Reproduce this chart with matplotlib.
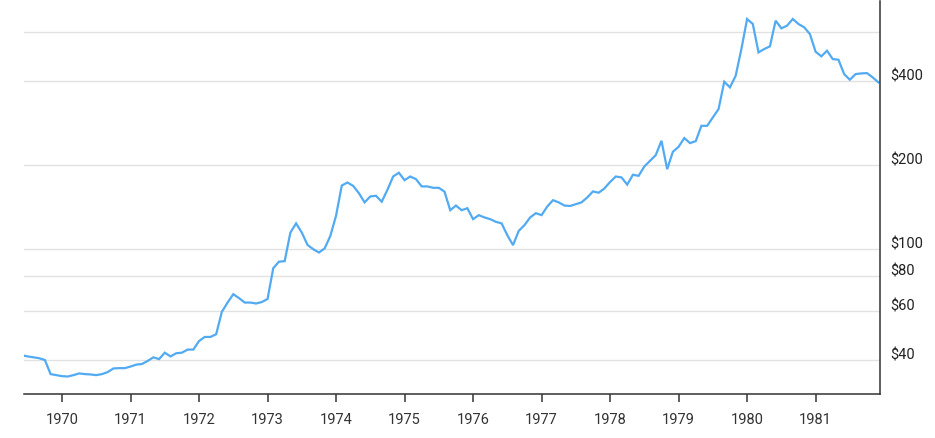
import numpy as np
import matplotlib.pyplot as plt
from matplotlib.transforms import ScaledTranslation

# monthly gold price, Jun 1969 .. Dec 1981
start_year = 1969
start_month = 6
gold_price = [
    41.7, 41.3, 41.0, 40.7, 40.1, 35.7, 35.4, 35.1, 35.0, 35.4, 35.9, 35.7,
    35.6, 35.4, 35.7, 36.3, 37.4, 37.5, 37.5, 38.0, 38.6, 38.8, 39.8, 41.0,
    40.4, 42.6, 41.3, 42.4, 42.6, 43.7, 43.7, 46.9, 48.5, 48.5, 49.6, 59.7,
    64.4, 69.0, 66.8, 64.4, 64.4, 63.9, 64.7, 66.3, 85.5, 90.2, 90.6, 114.7,
    123.7, 114.7, 103.6, 100.0, 97.3, 100.6, 111.6, 131.8, 169.0, 173.3, 168.5, 158.7,
    147.1, 154.5, 155.3, 147.9, 163.2, 182.1, 187.8, 176.7, 182.1, 178.2, 167.8, 167.8,
    165.9, 165.9, 160.7, 137.9, 143.3, 137.9, 140.2, 128.1, 132.4, 129.9, 128.1, 125.3,
    123.7, 112.2, 103.4, 116.3, 121.9, 129.9, 134.6, 132.4, 142.2, 149.8, 147.1, 143.3,
    142.8, 145.0, 147.1, 153.2, 161.0, 159.3, 165.0, 174.0, 182.1, 180.7, 170.3, 184.7,
    183.1, 197.8, 207.3, 217.2, 244.5, 193.4, 223.3, 232.6, 250.0, 239.8, 243.7, 276.6,
    276.6, 296.4, 317.5, 397.8, 379.7, 417.9, 520.9, 667.3, 640.4, 506.7, 520.9, 532.5,
    658.1, 617.7, 631.5, 667.3, 640.4, 622.9, 589.4, 509.5, 490.4, 513.7, 479.5, 477.0,
    423.6, 404.4, 423.6, 426.0, 427.1, 412.4, 395.6,
]
year_ticks = list(range(1970, 1982))
price_ticks = [40, 60, 80, 100, 200, 400, 600]
price_labels = ['$40', '$60', '$80', '$100', '$200', '$400', '']

t = start_year + (start_month - 1 + np.arange(len(gold_price))) / 12

plt.rcParams['font.family'] = ['Roboto', 'DejaVu Sans']

fig = plt.figure(figsize=(9.35, 4.39), dpi=100)
ax = fig.add_axes([24 / 935, 44 / 439, 856 / 935, 393 / 439])

ax.plot(t, gold_price, color='#52abf2', lw=1.6, solid_joinstyle='miter')

ax.set_yscale('log')
ax.set_xlim(1969.445, 1981.94)
ax.set_ylim(30.3, 774)

ax.set_xticks(year_ticks)
ax.set_xticklabels([str(y) for y in year_ticks])
ax.set_yticks(price_ticks)
ax.set_yticklabels(price_labels)
ax.yaxis.set_minor_locator(plt.NullLocator())
ax.xaxis.set_minor_locator(plt.NullLocator())

ax.yaxis.tick_right()
ax.tick_params(axis='y', length=0, pad=7.5, labelsize=10.5, labelcolor='#222222')
ax.tick_params(axis='x', length=6, width=1.1, color='#333333', pad=7,
               labelsize=10.5, labelcolor='#333333')

# labels sit a little above their gridlines
shift = ScaledTranslation(0, 0.07, fig.dpi_scale_trans)
for lbl in ax.get_yticklabels():
    lbl.set_transform(lbl.get_transform() + shift)

ax.grid(axis='y', color='#e2e2e2', lw=1)
ax.set_axisbelow(True)

for side in ['top', 'left']:
    ax.spines[side].set_visible(False)
for side in ['bottom', 'right']:
    ax.spines[side].set_color('#333333')
    ax.spines[side].set_linewidth(1.1)

fig.savefig('out.png', dpi=100)
